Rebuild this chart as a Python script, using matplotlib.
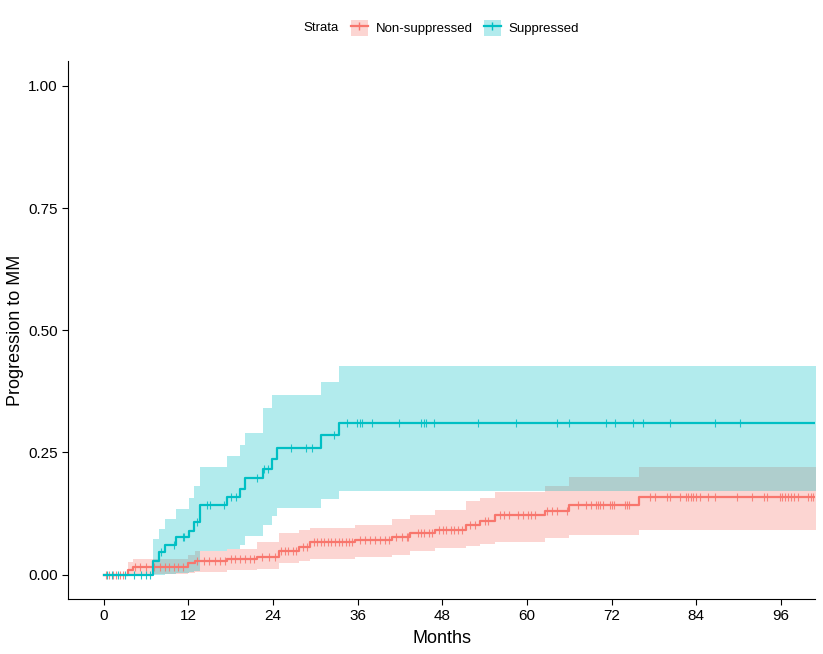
import numpy as np
import matplotlib.pyplot as plt
from matplotlib.lines import Line2D
from matplotlib.patches import Patch

plt.rcParams['font.family'] = ['Liberation Sans', 'DejaVu Sans']

# Non-suppressed: event times, cumulative incidence and 95% CI
ns_time = [0, 3.4, 4.1, 11.9, 13.0, 17.5, 21.8, 24.8, 27.7, 29.3, 35.7, 40.9, 43.5,
           47.0, 51.4, 53.4, 55.5, 62.6, 66.0, 75.9]
ns_est = [0, 0.010, 0.016, 0.023, 0.027, 0.032, 0.037, 0.049, 0.057, 0.066, 0.071,
          0.076, 0.085, 0.092, 0.101, 0.109, 0.121, 0.130, 0.142, 0.158]
ns_low = [0, 0, 0.002, 0.004, 0.006, 0.009, 0.012, 0.023, 0.027, 0.032, 0.037,
          0.040, 0.048, 0.055, 0.058, 0.062, 0.066, 0.074, 0.082, 0.091]
ns_up = [0, 0.025, 0.031, 0.041, 0.048, 0.052, 0.066, 0.085, 0.092, 0.096, 0.102,
         0.113, 0.123, 0.133, 0.150, 0.157, 0.170, 0.182, 0.200, 0.220]
ns_cens = [0.3, 0.8, 1.3, 1.8, 2.3, 2.8, 4.5, 5.2, 6.0, 7.2, 8.0, 8.7, 9.3, 10.0, 10.6,
           11.2, 13.3, 14.2, 15.0, 15.8, 16.5, 17.2, 18.0, 18.6, 19.3, 20.0, 20.7, 21.3,
           22.4, 23.5, 24.3, 25.2, 25.7, 26.2, 26.8, 27.3, 28.2, 28.8, 29.8, 30.3, 30.8,
           31.3, 31.8, 32.3, 32.8, 33.3, 33.8, 34.3, 34.8, 35.2, 36.4, 37.1, 37.8, 38.5,
           39.2, 39.9, 40.4, 41.5, 42.3, 43.0, 43.2, 44.6, 45.0, 45.4, 46.1, 46.6, 47.5,
           48.1, 48.6, 49.2, 49.7, 50.3, 50.8, 51.9, 52.6, 54.0, 54.5, 56.2, 56.8, 57.5,
           58.8, 59.4, 60.2, 60.6, 61.2, 62.8, 63.5, 64.2, 65.7, 67.3, 68.4, 69.1, 69.8,
           70.1, 70.4, 70.8, 71.8, 72.1, 72.4, 73.9, 74.2, 74.5, 77.5, 78.1, 79.9, 80.3,
           81.7, 82.5, 82.8, 83.2, 83.5, 83.9, 84.5, 85.6, 86.7, 89.8, 91.9, 93.6, 94.1,
           95.9, 96.2, 96.6, 97.0, 97.5, 97.9, 98.4, 99.9, 100.2, 100.5]

# Suppressed
s_time = [0, 7.0, 7.9, 8.7, 10.3, 12.1, 12.8, 13.6, 17.5, 19.4, 20.1, 22.6, 23.9,
          24.6, 30.8, 33.4]
s_est = [0, 0.027, 0.046, 0.061, 0.077, 0.090, 0.107, 0.142, 0.159, 0.176, 0.197,
         0.217, 0.237, 0.260, 0.285, 0.311]
s_low = [0, 0, 0, 0.002, 0.004, 0.006, 0.008, 0.048, 0.053, 0.060, 0.079, 0.102,
         0.120, 0.137, 0.154, 0.171]
s_up = [0, 0.072, 0.094, 0.113, 0.135, 0.157, 0.181, 0.220, 0.242, 0.266, 0.290,
        0.340, 0.367, 0.367, 0.395, 0.427]
s_cens = [0.5, 1.2, 2.0, 3.0, 4.3, 5.3, 6.0, 6.6, 8.2, 10.0, 11.2, 11.4, 13.3, 14.6,
          15.1, 17.0, 18.1, 18.7, 21.8, 22.8, 23.3, 26.5, 28.7, 29.6, 32.6, 34.5, 35.9,
          36.3, 36.6, 38.1, 41.8, 45.0, 45.4, 45.7, 46.8, 53.1, 58.4, 64.2, 65.9, 71.2,
          72.5, 75.1, 76.4, 80.3, 86.6, 90.2]

x_end = 101
red = '#F8766D'
teal = '#00BFC4'

fig, ax = plt.subplots(figsize=(8.23, 6.54), dpi=100)
fig.subplots_adjust(left=0.083, right=0.990, bottom=0.084, top=0.906)


def draw(times, est, low, up, cens, color):
    t = np.array(times + [x_end])
    e = np.array(est + [est[-1]])
    lo = np.array(low + [low[-1]])
    hi = np.array(up + [up[-1]])
    ax.fill_between(t, lo, hi, step='post', color=color, alpha=0.3, lw=0)
    ax.step(t, e, where='post', color=color, lw=1.6)
    c = np.array(cens)
    idx = np.searchsorted(np.array(times), c, side='right') - 1
    ax.plot(c, np.array(est)[idx], ls='none', marker='|', ms=5.5, mew=0.8,
            color=color, alpha=0.85)


draw(ns_time, ns_est, ns_low, ns_up, ns_cens, red)
draw(s_time, s_est, s_low, s_up, s_cens, teal)

ax.set_xlim(-5, 100.8)
ax.set_ylim(-0.05, 1.05)
ax.set_xticks(np.arange(0, 97, 12))
ax.set_yticks([0, 0.25, 0.5, 0.75, 1.0])
ax.set_yticklabels(['0.00', '0.25', '0.50', '0.75', '1.00'])
ax.tick_params(labelsize=11, length=4, width=0.8, colors='black')
ax.spines['top'].set_visible(False)
ax.spines['right'].set_visible(False)
ax.set_xlabel('Months', fontsize=13, labelpad=5)
ax.set_ylabel('Progression to MM', fontsize=13, labelpad=3)

handles = [
    (Patch(facecolor=red, alpha=0.3, lw=0), Line2D([], [], color=red, lw=1.6, marker='|', ms=6)),
    (Patch(facecolor=teal, alpha=0.3, lw=0), Line2D([], [], color=teal, lw=1.6, marker='|', ms=6)),
]
fig.text(321 / 823, 1 - 28 / 654, 'Strata', fontsize=9.5, ha='center', va='center')
fig.legend(handles, ['Non-suppressed', 'Suppressed'], loc='center',
           bbox_to_anchor=(465 / 823, 1 - 28 / 654), ncol=2, frameon=False,
           fontsize=9.5, handlelength=1.3, handleheight=1.6, handletextpad=0.6,
           columnspacing=0.8)

fig.savefig('out.png', dpi=100)
